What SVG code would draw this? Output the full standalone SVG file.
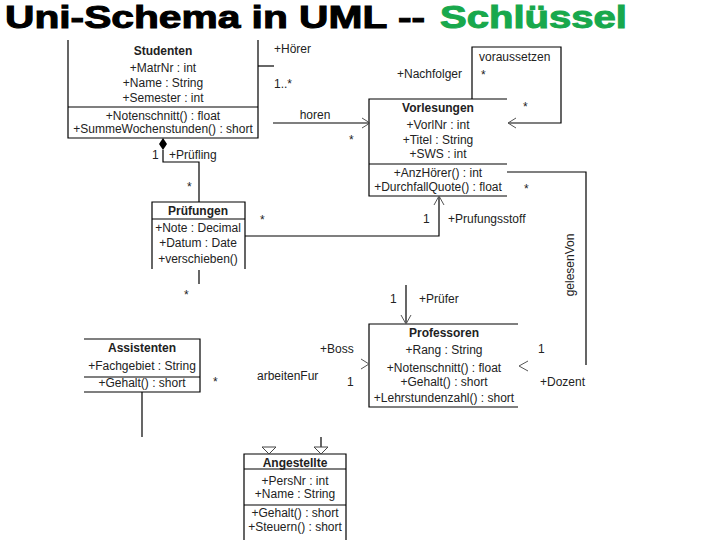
<svg xmlns="http://www.w3.org/2000/svg" width="720" height="540" viewBox="0 0 720 540">
<style>
text{font-family:"Liberation Sans",Arial,sans-serif;font-size:12px;fill:#222}
.c{text-anchor:middle}
.b{font-weight:bold}
.ln{fill:none;stroke:#000;stroke-width:1.2}
.ar{fill:none;stroke:#555;stroke-width:1}
.tri{fill:#fff;stroke:#444;stroke-width:1}
.title{font-size:31px;font-weight:bold;fill:#000;stroke:#000;stroke-width:1}
</style>
<rect width="720" height="540" fill="#fff"/>
<g id="title">
<text class="title" x="5" y="28" textLength="420" lengthAdjust="spacingAndGlyphs">Uni-Schema in UML --</text>
<text class="title" x="440" y="28" textLength="187" lengthAdjust="spacingAndGlyphs" style="fill:#18a84c;stroke:#18a84c">Schlüssel</text>
</g>
<g id="Studenten">
<path class="ln" d="M68,40 V138 H258 V40 M68,107 H258"/>
<text class="c b" x="163" y="55">Studenten</text>
<text class="c" x="163" y="72">+MatrNr : int</text>
<text class="c" x="163" y="87">+Name : String</text>
<text class="c" x="163" y="102">+Semester : int</text>
<text class="c" x="163" y="120">+Notenschnitt() : float</text>
<text class="c" x="163" y="133">+SummeWochenstunden() : short</text>
</g>
<g id="Vorlesungen">
<path class="ln" d="M507,99 H369 V196 H507 M369,164 H507"/>
<text class="c b" x="438" y="112">Vorlesungen</text>
<text class="c" x="438" y="129">+VorlNr : int</text>
<text class="c" x="438" y="144">+Titel : String</text>
<text class="c" x="438" y="158">+SWS : int</text>
<text class="c" x="438" y="177">+AnzHörer() : int</text>
<text class="c" x="438" y="191">+DurchfallQuote() : float</text>
</g>
<g id="Pruefungen">
<path class="ln" d="M152,269 V202 H245 V269 M152,219 H245"/>
<text class="c b" x="198" y="215">Prüfungen</text>
<text class="c" x="198" y="232">+Note : Decimal</text>
<text class="c" x="198" y="247">+Datum : Date</text>
<text class="c" x="198" y="263">+verschieben()</text>
</g>
<g id="Professoren">
<path class="ln" d="M518,324 H369 V407 H518"/>
<text class="c b" x="444" y="337">Professoren</text>
<text class="c" x="444" y="354">+Rang : String</text>
<text class="c" x="444" y="372">+Notenschnitt() : float</text>
<text class="c" x="444" y="386">+Gehalt() : short</text>
<text class="c" x="444" y="402">+Lehrstundenzahl() : short</text>
</g>
<g id="Assistenten">
<path class="ln" d="M84,339 H200 V392 H84 M84,377 H200"/>
<text class="c b" x="142" y="352">Assistenten</text>
<text class="c" x="142" y="370">+Fachgebiet : String</text>
<text class="c" x="142" y="387">+Gehalt() : short</text>
</g>
<g id="Angestellte">
<path class="ln" d="M244,540 V454 H346 V540 M244,469 H346 M244,505 H346"/>
<text class="c b" x="295" y="467">Angestellte</text>
<text class="c" x="295" y="485">+PersNr : int</text>
<text class="c" x="295" y="498">+Name : String</text>
<text class="c" x="295" y="517">+Gehalt() : short</text>
<text class="c" x="295" y="531">+Steuern() : short</text>
</g>
<g id="connectors">
<path class="ln" d="M258,66 H274"/>
<text x="274" y="53">+Hörer</text>
<text x="274" y="88">1..*</text>
<path class="ln" d="M273,123 H369"/>
<path class="ar" d="M362,118 L370,123 L362,128"/>
<text class="c" x="315" y="119">horen</text>
<text x="349" y="144">*</text>
<path class="ln" d="M472,99 V47 H561 V123 H508"/>
<path class="ar" d="M516,118 L508,123 L516,128"/>
<text x="479" y="61">voraussetzen</text>
<text x="481" y="79">*</text>
<text x="397" y="78">+Nachfolger</text>
<text x="523" y="111">*</text>
<path class="ln" d="M507,172 H586 V365"/>
<text x="524" y="193">*</text>
<text class="c" transform="translate(574,265) rotate(-90)">gelesenVon</text>
<text x="538" y="353">1</text>
<text x="540" y="386">+Dozent</text>
<path class="ar" d="M528,361 L519,366 L528,371"/>
<path class="ln" d="M163,150 V162 H199 V202"/>
<path d="M163,138 L167,144 L163,150 L159,144 Z" fill="#000"/>
<text x="152" y="159">1</text>
<text x="169" y="159">+Prüfling</text>
<text x="187" y="191">*</text>
<path class="ln" d="M245,236 H439 V197"/>
<path class="ar" d="M434,205 L439,196 L444,205"/>
<text x="260" y="224">*</text>
<text x="423" y="223">1</text>
<text x="448" y="223">+Prufungsstoff</text>
<path class="ln" d="M199,270 V284"/>
<text x="184" y="299">*</text>
<path class="ln" d="M406,285 V323"/>
<path class="ar" d="M401,315 L406,324 L411,315"/>
<text x="390" y="303">1</text>
<text x="419" y="303">+Prüfer</text>
<path class="ar" d="M361,359 L369,364 L361,369"/>
<text x="320" y="353">+Boss</text>
<text x="257" y="380">arbeitenFur</text>
<text x="347" y="386">1</text>
<text x="213" y="386">*</text>
<path class="ln" d="M142,392 V437"/>
<path class="ln" d="M321,437 V447"/>
<path class="tri" d="M262,447 H276 L269,454 Z"/>
<path class="tri" d="M314,447 H328 L321,454 Z"/>
</g>
</svg>
